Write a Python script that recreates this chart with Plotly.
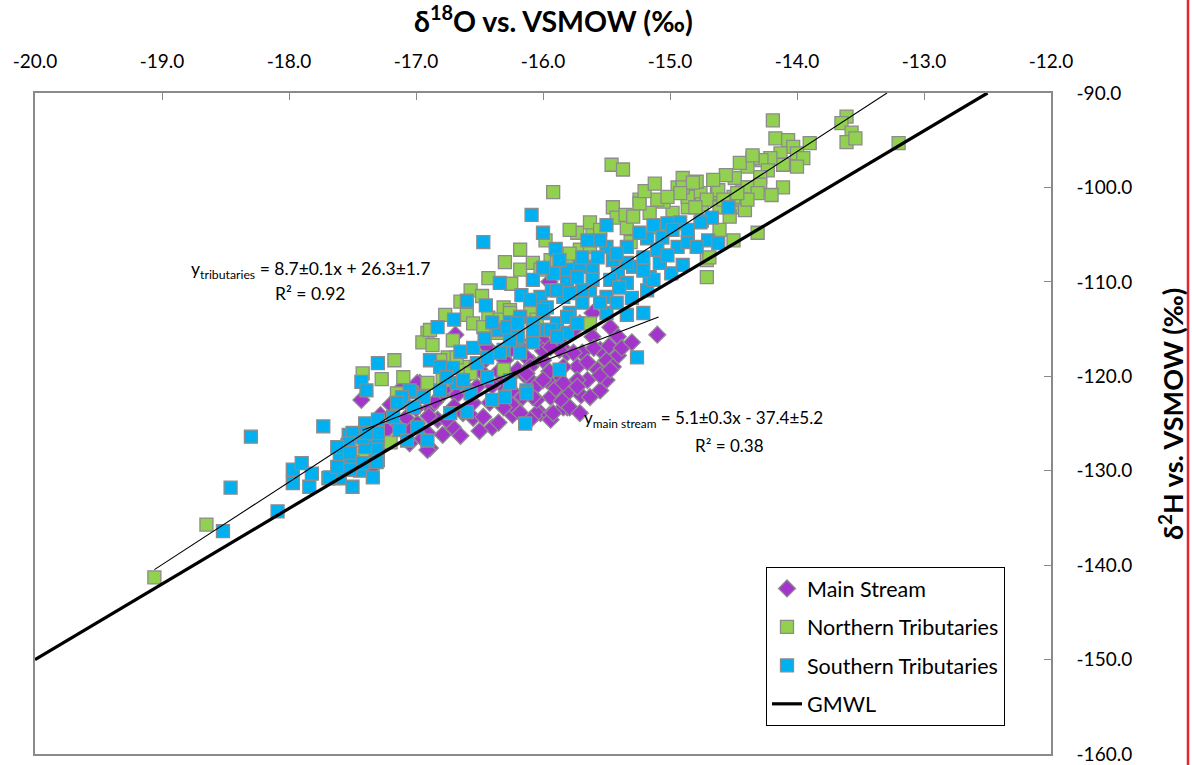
import plotly.graph_objects as go

# ---------------- data ----------------
main_x = [-15.10, -15.41, -15.41, -15.50, -15.55, -15.57, -15.50, -15.55, -15.65, -15.73,
          -15.69, -15.61, -15.81, -15.87, -15.81, -15.94, -16.02, -16.00, -16.08, -16.18,
          -16.18, -16.31, -15.71, -15.47, -15.95, -16.08, -15.61, -17.43, -16.69, -17.28,
          -16.89, -16.79, -16.71, -16.40, -16.55, -16.24, -16.05, -15.84, -15.81, -16.10,
          -15.97, -15.84, -15.76, -16.20, -16.34, -16.52, -16.42, -16.68, -16.89, -16.83,
          -16.99, -17.13, -16.97, -17.15, -17.34, -17.39, -16.26, -16.13, -16.00, -15.87,
          -15.76, -16.08, -16.44, -16.50, -16.31, -16.16, -16.20, -16.47, -16.63, -16.76,
          -16.91, -17.05, -17.23, -17.35, -16.91, -17.10, -16.99,
          -16.60, -16.45, -16.35, -16.25, -16.15, -16.05, -15.95, -15.90, -15.75, -15.70,
          -15.65, -15.60, -15.85, -16.00, -16.30, -16.55, -16.70, -16.80, -16.90, -17.00,
          -17.20, -17.05, -16.95, -16.65, -16.50, -16.35, -16.25, -16.10, -15.95, -15.85,
          -15.55, -15.45, -15.48, -15.38, -15.30,
          -16.05, -15.94, -15.79, -15.73, -15.84, -16.10, -15.94, -16.40, -16.58, -16.75,
          -16.85, -17.08, -17.25, -15.73, -15.63, -15.71, -15.92, -16.08, -16.18, -16.31,
          -16.00, -16.13, -15.47]
main_y = [-115.6, -115.8, -117.8, -118.3, -117.2, -119.3, -120.4, -121.5, -120.4, -119.0,
          -117.5, -115.8, -117.5, -120.4, -123.3, -122.2, -123.9, -116.2, -118.6, -116.9,
          -122.2, -121.1, -114.4, -114.8, -110.0, -112.2, -113.3, -122.5, -115.6, -124.1,
          -127.6, -126.2, -125.4, -125.4, -124.4, -124.1, -123.9, -123.3, -121.8, -120.4,
          -120.4, -119.0, -117.5, -119.3, -120.7, -121.1, -122.8, -122.0, -123.3, -124.6,
          -125.0, -121.5, -120.7, -125.4, -129.6, -128.6, -117.2, -118.0, -118.3, -117.2,
          -115.1, -116.2, -116.9, -119.3, -122.8, -122.2, -123.6, -124.3, -123.9, -124.6,
          -126.0, -125.7, -125.7, -129.7, -127.8, -121.1, -120.7,
          -120.0, -118.2, -119.5, -121.5, -119.8, -121.0, -119.5, -121.3, -120.8, -122.0,
          -118.5, -117.0, -115.8, -117.3, -118.3, -122.8, -123.2, -122.0, -124.2, -123.4,
          -123.0, -127.1, -126.6, -126.3, -125.8, -124.9, -123.0, -124.6, -124.1, -122.6,
          -119.9, -119.0, -116.8, -117.0, -116.4,
          -122.5, -124.6, -123.3, -120.4, -120.7, -119.0, -116.9, -121.0, -121.6, -121.0,
          -122.7, -124.4, -127.2, -121.1, -122.2, -123.9, -123.9, -122.2, -123.9, -123.3,
          -120.4, -119.7, -119.3]

north_x = [-19.06, -18.65, -17.42, -17.27, -17.10, -17.15, -16.91, -17.20, -17.42, -16.60,
           -16.43, -16.31, -16.91, -16.95, -16.87, -16.71, -17.17, -16.79, -16.75, -16.63,
           -16.57, -16.31, -16.20, -16.10, -16.36, -15.92, -15.45, -15.73, -15.61, -15.42,
           -15.34, -15.16, -15.71, -16.18, -15.31, -14.94, -14.83, -14.76, -14.86, -14.71,
           -14.71, -14.50, -14.61, -14.50, -14.63, -14.43, -16.08, -15.94, -15.81, -16.28,
           -15.63, -15.08, -14.98, -14.19, -13.61, -13.65, -13.57, -13.61, -13.54, -13.20,
           -14.17, -14.07, -14.03, -13.90, -14.13, -14.00, -13.95, -14.00, -14.11, -14.21,
           -14.28, -14.35, -14.39, -14.23, -14.29, -14.49, -14.56, -14.39, -14.29, -14.11,
           -14.20, -14.31, -14.43, -14.41, -14.62, -14.79, -14.90, -14.86, -14.53, -14.31,
           -14.66, -14.45, -14.35, -15.46, -15.37, -15.24, -15.35, -15.63, -15.79, -15.98,
           -16.18, -16.30, -16.43, -16.57, -16.65, -16.77, -16.89, -16.48, -16.25, -15.05,
           -14.95, -14.75,
           -14.90, -14.82, -14.71, -14.61, -14.50, -14.39, -15.10, -15.24, -15.29, -15.55,
           -15.63, -15.79, -15.89, -16.02, -16.26, -16.34, -14.69, -16.55, -16.47, -16.26,
           -16.05, -16.68, -16.81, -14.58, -14.47, -14.80, -14.92, -15.20, -15.02, -15.12]
north_y = [-141.3, -135.7, -119.7, -120.3, -120.1, -121.8, -120.7, -127.0, -128.1, -113.5,
           -113.8, -112.7, -115.4, -116.4, -116.7, -116.2, -118.3, -120.4, -118.0, -119.0,
           -119.7, -119.3, -113.7, -113.3, -115.4, -100.5, -102.1, -104.8, -104.8, -103.2,
           -104.3, -102.7, -106.6, -108.7, -105.8, -100.0, -100.8, -100.6, -102.1, -107.7,
           -109.5, -105.6, -104.5, -102.1, -100.6, -100.0, -108.0, -107.7, -108.0, -114.4,
           -114.4, -104.2, -102.7, -92.9, -92.5, -93.2, -94.2, -95.2, -94.8, -95.3,
           -94.8, -95.0, -95.7, -95.3, -96.4, -96.4, -96.9, -97.8, -97.6, -96.9,
           -97.1, -96.9, -97.8, -98.2, -98.9, -99.0, -98.7, -100.0, -99.7, -100.0,
           -100.8, -100.6, -101.3, -102.4, -100.3, -99.4, -99.0, -101.0, -103.1, -104.8,
           -99.2, -97.4, -96.6, -97.6, -98.1, -101.3, -102.9, -103.7, -104.5, -105.6,
           -106.6, -107.9, -109.6, -110.9, -112.1, -113.5, -115.1, -111.5, -110.2, -101.5,
           -103.8, -101.8,
           -100.0, -99.5, -101.3, -102.1, -101.0, -101.3, -101.3, -101.7, -103.1, -104.5,
           -106.3, -107.0, -108.0, -108.7, -113.0, -114.0, -107.4, -114.4, -114.8, -113.3,
           -114.0, -118.0, -118.3, -101.3, -100.6, -102.1, -100.6, -100.4, -101.0, -99.6]

south_x = [-18.30, -18.46, -18.52, -18.09, -17.73, -17.97, -17.90, -17.82, -17.97, -17.84,
           -17.69, -17.60, -17.50, -17.44, -17.50, -17.60, -17.54, -17.53, -17.40, -17.30,
           -17.30, -17.31, -17.30, -17.40, -17.42, -17.13, -17.07, -16.99, -17.43, -17.39,
           -17.30, -17.10, -17.03, -16.34, -16.17, -16.83, -16.65, -16.55, -16.46, -16.35,
           -16.26, -16.20, -16.08, -15.97, -15.89, -16.02, -15.93, -15.84, -15.79, -16.89,
           -16.81, -16.71, -16.52, -16.44, -16.26, -16.13, -15.87, -16.68, -16.57, -16.73,
           -16.60, -16.40, -16.30, -16.14, -17.05, -17.11, -17.15, -16.91, -17.30, -17.50,
           -17.53, -17.68, -17.31, -16.09, -15.50, -15.50, -15.18, -15.13, -15.02, -14.92,
           -15.06, -14.94, -14.86, -14.75, -14.67, -14.70, -14.62, -14.54, -14.99, -15.16,
           -15.29, -15.41, -15.34, -15.18, -15.30, -15.34, -15.21, -15.50, -15.50, -15.63,
           -15.69, -15.81, -16.00, -16.08, -16.18, -16.28, -16.20, -16.18, -16.31, -16.26,
           -16.13, -15.26, -15.81, -15.71, -15.61, -15.57, -15.45, -15.34, -15.21, -15.10,
           -15.08, -15.55, -15.69, -15.81, -15.92, -16.00, -15.97, -16.08, -14.76, -16.47,
           -16.60, -16.70, -16.45, -16.40, -15.90, -16.00,
           -15.87, -15.73, -15.61, -15.47, -15.69, -15.55, -15.42, -15.89, -16.20, -16.08,
           -15.94, -15.81, -16.26, -16.34, -14.86, -14.79, -14.98, -15.24, -15.34, -15.42,
           -15.65, -15.13, -15.21, -16.10, -16.00, -15.79, -15.73, -15.89, -16.44, -16.63,
           -16.76, -16.81, -16.94, -17.02, -17.18, -17.39, -17.62, -17.52, -17.42, -17.34,
           -17.52, -17.62, -15.02, -14.90, -15.40]
south_y = [-126.4, -131.8, -136.4, -134.3, -125.3, -129.9, -129.2, -130.3, -131.3, -131.7,
           -130.8, -130.8, -131.7, -130.0, -129.1, -128.5, -127.3, -126.2, -125.0, -124.6,
           -126.4, -127.8, -128.9, -127.5, -126.5, -125.7, -126.8, -125.4, -120.6, -121.5,
           -118.6, -122.7, -121.7, -110.1, -111.4, -114.8, -117.4, -117.0, -116.0, -115.1,
           -114.3, -116.0, -116.4, -115.1, -114.4, -111.6, -110.9, -111.6, -113.3, -118.3,
           -119.0, -119.1, -118.6, -120.1, -120.4, -121.5, -119.3, -120.7, -121.8, -123.9,
           -123.8, -122.5, -122.2, -125.0, -121.5, -122.2, -122.8, -126.8, -126.0, -126.0,
           -127.1, -130.7, -129.1, -102.9, -104.0, -106.3, -105.4, -104.0, -103.8, -103.7,
           -105.3, -106.3, -105.8, -103.5, -103.2, -105.6, -105.9, -102.1, -109.1, -109.5,
           -108.4, -109.1, -110.1, -110.9, -111.7, -113.5, -113.3, -113.3, -111.6, -110.9,
           -112.2, -113.7, -113.3, -114.4, -113.7, -114.8, -115.8, -117.5, -117.2, -120.7,
           -121.8, -118.0, -109.8, -108.4, -108.4, -107.4, -107.7, -108.0, -107.4, -106.6,
           -108.0, -105.6, -107.4, -108.7, -109.1, -108.5, -112.7, -109.8, -103.7, -105.8,
           -112.0, -114.0, -112.5, -114.3, -106.5, -104.8,
           -107.7, -109.5, -109.8, -109.8, -110.9, -112.2, -112.2, -110.9, -114.4, -115.1,
           -115.1, -115.4, -116.2, -117.5, -104.5, -106.3, -104.5, -104.8, -106.3, -107.0,
           -105.6, -109.8, -108.8, -111.9, -113.0, -111.2, -114.4, -115.8, -118.0, -120.4,
           -120.1, -121.5, -122.2, -123.3, -124.3, -126.0, -127.5, -128.1, -129.2, -130.7,
           -129.9, -129.6, -107.2, -108.2, -110.6]

# reference line (GMWL) and trend lines as drawn: (slope, intercept) and x extents
gmwl_slope, gmwl_icpt = 8.0, 10.0
trib_slope, trib_icpt = 8.75, 26.3
trib_x_start = -19.06
main_slope, main_icpt = 5.15, -36.0
main_x_range = [-17.42, -15.09]

x_ticks = [-20, -19, -18, -17, -16, -15, -14, -13, -12]
x_tick_labels = ["-20.0", "-19.0", "-18.0", "-17.0", "-16.0", "-15.0", "-14.0", "-13.0", "-12.0"]
y_ticks = [-160, -150, -140, -130, -120, -110, -100, -90]
y_tick_labels = ["-160.0", "-150.0", "-140.0", "-130.0", "-120.0", "-110.0", "-100.0", "-90.0"]
Y_TOP = -90

# ---------------- styles ----------------
FONT = "Lato"
C_MAIN = "#A334CC"
C_NORTH = "#92D050"
C_SOUTH = "#00B0F0"
EDGE = "#8C8C8C"
AXIS = "#8A8A8A"

fig = go.Figure()

fig.add_trace(go.Scatter(
    x=main_x, y=main_y, mode="markers", name="Main Stream", legendgroup="a",
    marker=dict(symbol="diamond", size=13, color=C_MAIN, line=dict(color=EDGE, width=1.3))))
fig.add_trace(go.Scatter(
    x=north_x, y=north_y, mode="markers", name="Northern Tributaries", legendgroup="b",
    marker=dict(symbol="square", size=13, color=C_NORTH, line=dict(color=EDGE, width=1.3))))
fig.add_trace(go.Scatter(
    x=south_x, y=south_y, mode="markers", name="Southern Tributaries", legendgroup="c",
    marker=dict(symbol="square", size=13, color=C_SOUTH, line=dict(color=EDGE, width=1.3))))

gx = [-20, (Y_TOP - gmwl_icpt) / gmwl_slope]
fig.add_trace(go.Scatter(
    x=gx, y=[gmwl_slope * v + gmwl_icpt for v in gx], mode="lines", name="GMWL",
    legendgroup="d", line=dict(color="black", width=3.2)))

tx = [trib_x_start, (Y_TOP - trib_icpt) / trib_slope]
fig.add_trace(go.Scatter(
    x=tx, y=[trib_slope * v + trib_icpt for v in tx], mode="lines",
    showlegend=False, line=dict(color="black", width=1.1)))
fig.add_trace(go.Scatter(
    x=main_x_range, y=[main_slope * v + main_icpt for v in main_x_range], mode="lines",
    showlegend=False, line=dict(color="black", width=1.1)))

L, R, T, B = 35, 141, 93, 11
W, H = 1192, 765
pw, ph = W - L - R, H - T - B


def px(xp):
    return (xp - L) / pw


def py(yp):
    return (H - B - yp) / ph


fig.update_layout(
    width=W, height=H,
    margin=dict(l=L, r=R, t=T, b=B, pad=0, autoexpand=False),
    paper_bgcolor="white", plot_bgcolor="white",
    font=dict(family=FONT, color="black", size=19),
    showlegend=True,
    legend=dict(
        x=px(766), y=py(567), xanchor="left", yanchor="top",
        bgcolor="white", bordercolor="black", borderwidth=1,
        font=dict(family=FONT, size=21.5, color="black"),
        traceorder="grouped", tracegroupgap=7.5,
    ),
    xaxis=dict(
        side="top", range=[-20, -12], tickvals=x_ticks, ticktext=x_tick_labels,
        ticks="inside", ticklen=7, tickcolor=AXIS, tickwidth=1, automargin=False,
        showgrid=False, zeroline=False, showline=True, linecolor=AXIS, linewidth=1.5,
        mirror=True, ticklabelstandoff=16, tickfont=dict(size=19),
    ),
    yaxis=dict(
        side="right", range=[-160, -90], tickvals=y_ticks, ticktext=y_tick_labels,
        ticks="inside", ticklen=7, tickcolor=AXIS, tickwidth=1, automargin=False,
        showgrid=False, zeroline=False, showline=True, linecolor=AXIS, linewidth=1.5,
        mirror=True, ticklabelstandoff=20, tickfont=dict(size=19),
    ),
)

annos = [
    dict(text="<b>δ<sup>18</sup>O vs. VSMOW (‰)</b>", x=px(553), y=py(19), size=28.5, angle=0),
    dict(text="<b>δ<sup>2</sup>H vs. VSMOW (‰)</b>", x=px(1171), y=py(414), size=27, angle=-90),
    dict(text="y<sub>tributaries</sub> = 8.7±0.1x + 26.3±1.7", x=px(310), y=py(270), size=17.5, angle=0),
    dict(text="R² = 0.92", x=px(310), y=py(293), size=17.5, angle=0),
    dict(text="y<sub>main stream</sub> = 5.1±0.3x - 37.4±5.2", x=px(703), y=py(419), size=17, angle=0),
    dict(text="R² = 0.38", x=px(729), y=py(445), size=17, angle=0),
]
for a in annos:
    fig.add_annotation(
        text=a["text"], x=a["x"], y=a["y"], xref="paper", yref="paper",
        xanchor="center", yanchor="middle", showarrow=False, textangle=a["angle"],
        font=dict(family=FONT, size=a["size"], color="black"))

# thin red vertical rule at the right edge of the image
fig.add_shape(type="line", xref="paper", yref="paper",
              x0=px(1188), x1=px(1188), y0=py(765), y1=py(0),
              line=dict(color="#E3262F", width=2.5))

fig.write_html("out.html")
